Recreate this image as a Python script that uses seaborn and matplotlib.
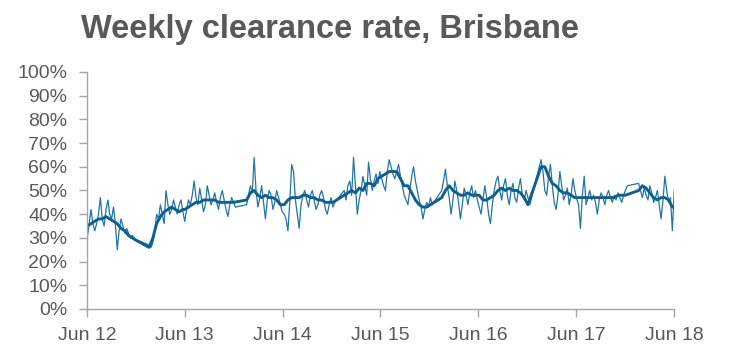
import matplotlib
matplotlib.use("Agg")
import matplotlib.pyplot as plt
from matplotlib.ticker import PercentFormatter
import seaborn as sns
import pandas as pd

# weekly clearance rate (%), split around the Christmas break each year
wk_2012b = [30, 36, 42, 36, 33, 36, 40, 47, 38, 35, 42, 46, 40, 38, 43, 36, 25, 33, 38, 35, 32, 34, 32, 30, 31, 30, 29, 29]
wk_2013a = [27, 26, 28, 33, 40, 38, 44, 40, 36, 50, 44, 40, 42, 46, 43, 40, 44, 46, 41, 36]
wk_2013b = [38, 42, 46, 44, 48, 54, 47, 44, 51, 46, 41, 44, 52, 48, 44, 46, 49, 45, 42, 47, 50, 46, 42, 39, 44, 47, 45, 43]
wk_2014a = [44, 48, 52, 49, 64, 50, 43, 47, 52, 45, 38, 46, 50, 48, 42, 45, 50, 47, 44, 41]
wk_2014b = [40, 38, 33, 45, 61, 58, 46, 40, 34, 44, 48, 50, 46, 43, 48, 50, 46, 42, 44, 48, 50, 47, 42, 40, 44, 47, 43, 45]
wk_2015a = [50, 46, 52, 54, 48, 64, 52, 40, 46, 50, 56, 52, 48, 62, 55, 50, 54, 57, 53, 58]
wk_2015b = [55, 52, 50, 58, 63, 60, 57, 55, 58, 61, 56, 52, 48, 46, 44, 50, 56, 60, 54, 50, 46, 43, 38, 42, 45, 43, 47, 44]
wk_2016a = [50, 54, 59, 52, 47, 40, 46, 54, 50, 45, 38, 44, 51, 48, 44, 49, 52, 47, 50, 46]
wk_2016b = [43, 40, 46, 52, 47, 40, 36, 44, 50, 54, 56, 50, 46, 52, 55, 48, 44, 50, 53, 47, 45, 51, 55, 48, 46, 50, 47, 44]
wk_2017a = [63, 58, 50, 48, 56, 61, 52, 45, 42, 48, 58, 52, 46, 48, 51, 44, 48, 55, 50, 46]
wk_2017b = [47, 44, 34, 48, 56, 44, 47, 50, 46, 48, 45, 40, 46, 49, 47, 44, 48, 50, 47, 45, 48, 46, 49, 47, 45, 48, 50, 52]
wk_2018a = [53, 50, 47, 51, 48, 46, 52, 49, 45, 47, 50, 44, 38, 46, 56, 50, 45, 47, 33, 50]

# smoothed clearance rate (%), fortnightly readings
av_2012b = [35, 36, 37, 38, 38, 39, 38, 37, 36, 34, 33, 31, 30, 29]
av_2013a = [26, 30, 36, 39, 41, 42, 43, 42, 41, 42]
av_2013b = [42, 43, 44, 45, 45, 46, 46, 46, 46, 45, 45, 45, 45, 45]
av_2014a = [46, 49, 50, 48, 47, 48, 47, 47, 46, 44]
av_2014b = [44, 46, 47, 47, 47, 48, 48, 47, 47, 46, 46, 45, 45, 45]
av_2015a = [48, 49, 50, 49, 51, 50, 53, 53, 52, 55]
av_2015b = [56, 57, 58, 58, 58, 55, 52, 52, 49, 46, 44, 43, 43, 44]
av_2016a = [47, 50, 52, 50, 49, 48, 48, 49, 48, 48]
av_2016b = [48, 46, 46, 47, 48, 50, 51, 50, 51, 50, 50, 49, 47, 44]
av_2017a = [60, 60, 56, 53, 52, 50, 49, 49, 48, 47]
av_2017b = [47, 47, 47, 47, 47, 47, 47, 47, 47, 47, 47, 48, 48, 48]
av_2018a = [50, 52, 51, 49, 47, 46, 47, 47, 46, 43]

seg_starts = ["2012-06-02", "2013-01-19", "2013-06-01", "2014-01-18", "2014-06-07", "2015-01-17",
              "2015-06-06", "2016-01-16", "2016-06-04", "2017-01-21", "2017-06-03", "2018-01-20"]
wk_segs = [wk_2012b, wk_2013a, wk_2013b, wk_2014a, wk_2014b, wk_2015a,
           wk_2015b, wk_2016a, wk_2016b, wk_2017a, wk_2017b, wk_2018a]
av_segs = [av_2012b, av_2013a, av_2013b, av_2014a, av_2014b, av_2015a,
           av_2015b, av_2016a, av_2016b, av_2017a, av_2017b, av_2018a]

xtick_labels = ["Jun 12", "Jun 13", "Jun 14", "Jun 15", "Jun 16", "Jun 17", "Jun 18"]

wk_dates, wk_vals, av_dates, av_vals = [], [], [], []
for s, w, a in zip(seg_starts, wk_segs, av_segs):
    wk_dates += list(pd.date_range(s, periods=len(w), freq="7D"))
    wk_vals += w
    av_dates += list(pd.date_range(s, periods=len(a), freq="14D"))
    av_vals += a
weekly = pd.DataFrame({"date": wk_dates, "rate": wk_vals})
smooth = pd.DataFrame({"date": av_dates, "rate": av_vals})

sns.set_theme(style="white")
plt.rcParams["font.family"] = ["Liberation Sans", "DejaVu Sans"]

grey = "#595959"
fig = plt.figure(figsize=(7.34, 3.6), dpi=100)
ax = fig.add_axes([0.1185, 0.1417, 0.7997, 0.6583])

sns.lineplot(data=weekly, x="date", y="rate", ax=ax, color="#1f76a8", linewidth=0.9)
sns.lineplot(data=smooth, x="date", y="rate", ax=ax, color="#115f90", linewidth=2.1)

ax.set_ylim(0, 100)
ax.set_xlim(pd.Timestamp("2012-06-01"), pd.Timestamp("2018-06-01"))
ax.set_yticks(range(0, 101, 10))
ax.yaxis.set_major_formatter(PercentFormatter(decimals=0))
ax.set_xticks([pd.Timestamp(f"20{l[-2:]}-06-01") for l in xtick_labels])
ax.set_xticklabels(xtick_labels)
ax.set_xlabel("")
ax.set_ylabel("")

for side in ["top", "right"]:
    ax.spines[side].set_visible(False)
for side in ["left", "bottom"]:
    ax.spines[side].set_color("#a6a6a6")
    ax.spines[side].set_linewidth(1.0)
ax.tick_params(axis="both", which="major", length=6, width=1.0, color="#a6a6a6",
               labelsize=14, labelcolor=grey, direction="out", left=True, bottom=True)
ax.tick_params(axis="y", pad=8)
ax.tick_params(axis="x", pad=7)

fig.text(0.111, 0.917, "Weekly clearance rate, Brisbane", fontsize=23.5, fontweight="bold",
         color=grey, va="center", ha="left")

fig.savefig("out.png", dpi=100)
